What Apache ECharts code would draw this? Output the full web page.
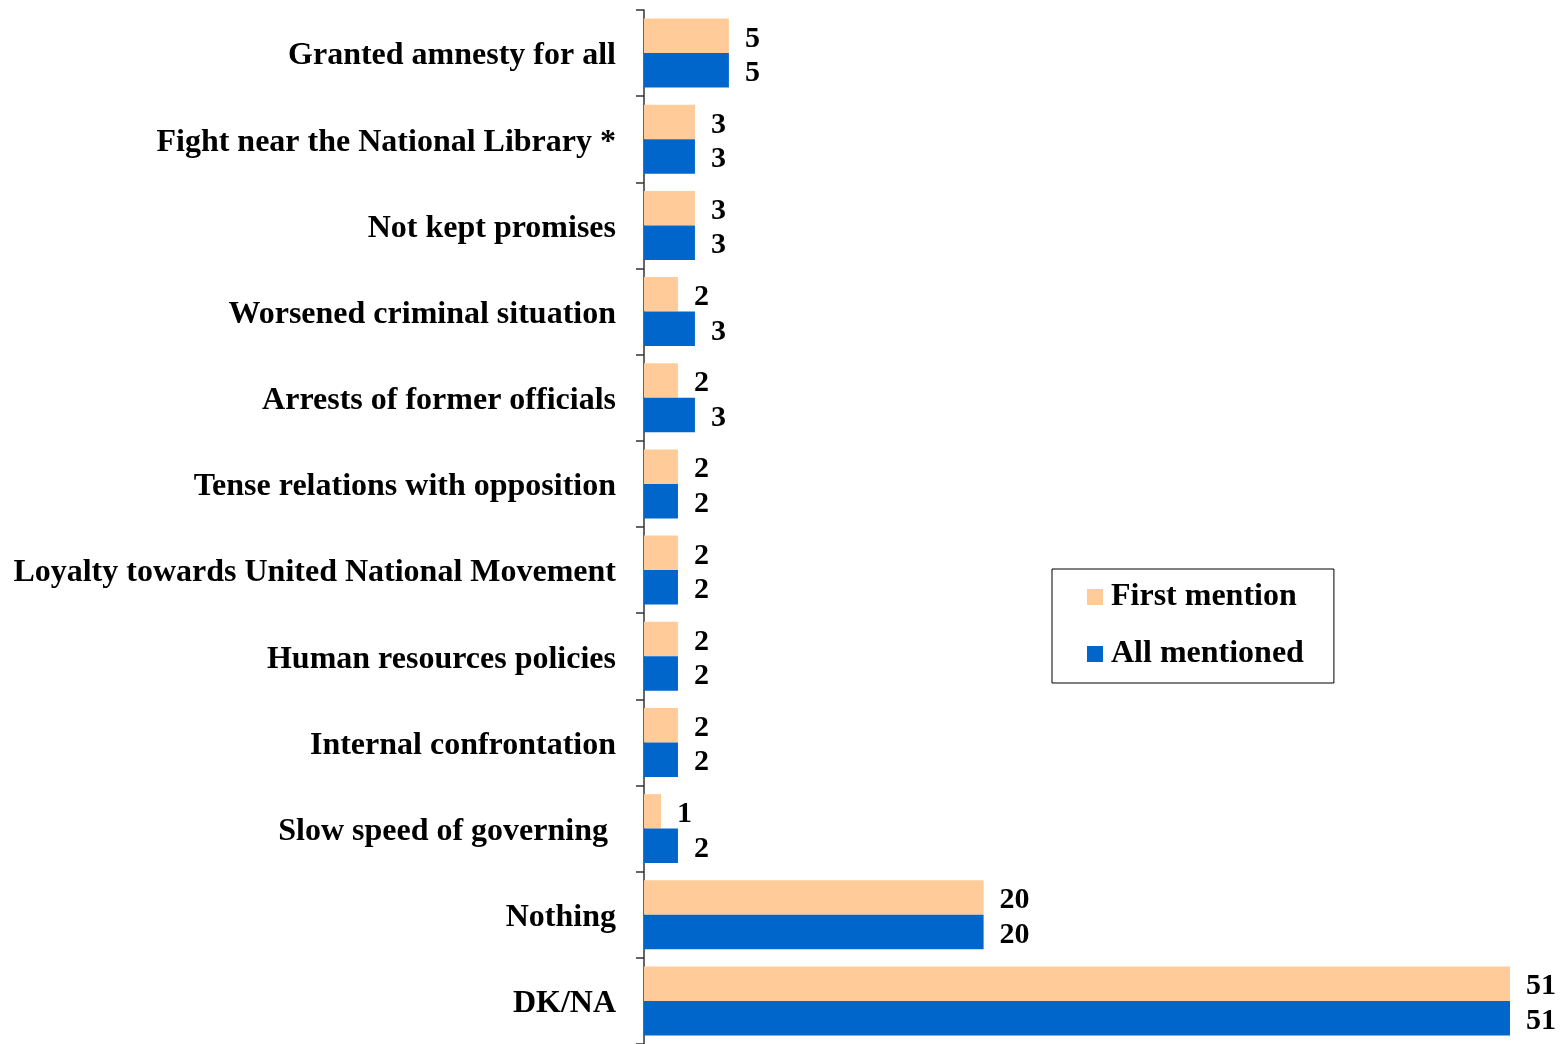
<!DOCTYPE html>
<html><head><meta charset="utf-8">
<script src="https://cdn.jsdelivr.net/npm/echarts@6/dist/echarts.min.js"></script>
<style>html,body{margin:0;padding:0;background:#fff}#c{width:1566px;height:1044px}</style>
</head><body><div id="c"></div>
<script>
var categories = ["Granted amnesty for all","Fight near the National Library *","Not kept promises","Worsened criminal situation","Arrests of former officials","Tense relations with opposition","Loyalty towards United National Movement","Human resources policies","Internal confrontation","Slow speed of governing ","Nothing","DK/NA"];
var firstMention = [5,3,3,2,2,2,2,2,2,1,20,51];
var allMentioned = [5,3,3,3,3,2,2,2,2,2,20,51];
var seriesNames = ["First mention","All mentioned"];

var font = '"Liberation Serif","Times New Roman",serif';
var chart = echarts.init(document.getElementById('c'), null, {renderer:'canvas'});
var lbl = {show:true, position:'right', distance:16, offset:[0,3], fontFamily:font, fontWeight:'bold', fontSize:30, color:'#000'};
chart.setOption({
  animation:false,
  grid:{left:644, right:56, top:10, bottom:-4, containLabel:false},
  legend:{
    left:1052, top:569, orient:'vertical',
    padding:[12,30,13,35], itemGap:25, itemWidth:16, itemHeight:16,
    borderColor:'#000', borderWidth:1, icon:'rect',
    textStyle:{fontFamily:font, fontWeight:'bold', fontSize:32, color:'#000', padding:[0,0,0,3]},
    data:seriesNames
  },
  xAxis:{type:'value', min:0, max:51, show:false},
  yAxis:{type:'category', data:categories, inverse:true,
    axisLine:{show:true, lineStyle:{color:'#333', width:1.5}},
    axisTick:{show:true, length:8, inside:false, lineStyle:{color:'#333', width:1.5}},
    axisLabel:{margin:28, fontFamily:font, fontWeight:'bold', fontSize:32, color:'#000',
      formatter:function(v){return '{a|' + v + '}';},
      rich:{a:{fontFamily:font, fontWeight:'bold', fontSize:32, color:'#000', padding:[6,0,0,0]}}}
  },
  series:[
    {name:seriesNames[0], type:'bar', data:firstMention, barGap:'0%', barCategoryGap:'20%', itemStyle:{color:'#FFCC99'}, label:lbl},
    {name:seriesNames[1], type:'bar', data:allMentioned, barGap:'0%', barCategoryGap:'20%', itemStyle:{color:'#0066CC'}, label:lbl}
  ]
});
</script></body></html>
